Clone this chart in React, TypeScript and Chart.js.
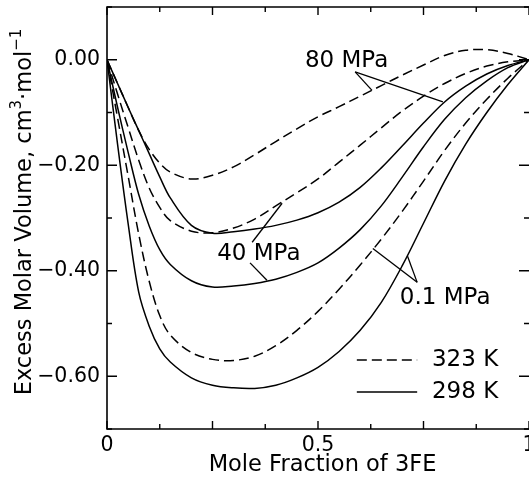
import React, { useEffect, useRef } from 'react';
import { Chart, registerables } from 'chart.js';

Chart.register(...registerables);

const FONT = "'DejaVu Sans', sans-serif";

// x: mole fraction of 3FE (shared grid for all curves)
const MOLE_FRACTION = [0, 0.025, 0.05, 0.075, 0.1, 0.125, 0.15, 0.2, 0.25, 0.3, 0.35, 0.4, 0.45, 0.5, 0.55, 0.6, 0.65, 0.7, 0.75, 0.8, 0.85, 0.9, 0.95, 1];

// Excess molar volume, cm3/mol — 323 K (dashed)
const VE_323K_80MPA = [0, -0.045, -0.09, -0.134, -0.17, -0.196, -0.213, -0.226, -0.219, -0.203, -0.18, -0.155, -0.131, -0.108, -0.089, -0.069, -0.049, -0.029, -0.01, 0.008, 0.018, 0.019, 0.012, 0];
const VE_323K_40MPA = [0, -0.065, -0.128, -0.19, -0.243, -0.28, -0.305, -0.325, -0.328, -0.319, -0.302, -0.277, -0.252, -0.226, -0.194, -0.162, -0.129, -0.097, -0.069, -0.045, -0.026, -0.012, -0.004, 0];
const VE_323K_01MPA = [0, -0.11, -0.22, -0.33, -0.42, -0.485, -0.522, -0.555, -0.568, -0.57, -0.562, -0.542, -0.513, -0.477, -0.435, -0.389, -0.34, -0.287, -0.23, -0.172, -0.12, -0.075, -0.035, 0];

// Excess molar volume, cm3/mol — 298 K (solid)
const VE_298K_80MPA = [0, -0.045, -0.09, -0.134, -0.178, -0.222, -0.262, -0.314, -0.329, -0.326, -0.321, -0.314, -0.304, -0.29, -0.27, -0.242, -0.205, -0.163, -0.12, -0.08, -0.05, -0.027, -0.011, 0];
const VE_298K_40MPA = [0, -0.09, -0.175, -0.255, -0.315, -0.36, -0.388, -0.419, -0.431, -0.429, -0.424, -0.416, -0.403, -0.385, -0.357, -0.322, -0.277, -0.222, -0.165, -0.113, -0.072, -0.04, -0.015, 0];
const VE_298K_01MPA = [0, -0.16, -0.31, -0.44, -0.505, -0.548, -0.573, -0.603, -0.617, -0.622, -0.623, -0.617, -0.603, -0.583, -0.553, -0.513, -0.46, -0.39, -0.31, -0.23, -0.16, -0.1, -0.047, 0];

const TEMPERATURES = ['323 K', '298 K'];
const PRESSURES = ['80 MPa', '40 MPa', '0.1 MPa'];

const X_TITLE = 'Mole Fraction of 3FE';

// annotation placements (data coordinates)
const ANNOTATIONS = [
  { text: PRESSURES[0], at: [0.469, -0.003], from: [0.588, -0.023], to: [[0.628, -0.058], [0.796, -0.08]] },
  { text: PRESSURES[1], at: [0.261, -0.368], from: null, to: [] as number[][] },
  { text: PRESSURES[2], at: [0.694, -0.451], from: [0.735, -0.422], to: [[0.630, -0.358], [0.712, -0.372]] },
];
const LEADERS_40 = [
  [[0.344, -0.346], [0.415, -0.272]],
  [[0.339, -0.385], [0.379, -0.418]],
];
const LEGEND_POS = { x0: 0.592, x1: 0.735, tx: 0.770, y: [-0.569, -0.630] };

const DASH = [10, 5];

const pts = (ys: number[]) => MOLE_FRACTION.map((x, i) => ({ x, y: ys[i] }));

const overlay = {
  id: 'overlay',
  afterDraw(chart: any) {
    const { ctx, chartArea: ca, scales } = chart;
    const xs = scales.x, ys = scales.y;
    const px = (v: number) => xs.getPixelForValue(v);
    const py = (v: number) => ys.getPixelForValue(v);
    ctx.save();
    ctx.strokeStyle = '#000';
    ctx.fillStyle = '#000';
    ctx.lineWidth = 1.6;
    ctx.setLineDash([]);
    // frame (left, top, bottom)
    ctx.beginPath();
    ctx.moveTo(ca.right + 2, ca.top);
    ctx.lineTo(ca.left, ca.top);
    ctx.lineTo(ca.left, ca.bottom);
    ctx.lineTo(ca.right + 2, ca.bottom);
    ctx.stroke();
    // inward ticks
    ctx.lineWidth = 1.4;
    ctx.beginPath();
    xs.ticks.forEach((t: any) => {
      const k = Math.round(t.value * 8);
      const len = k % 2 === 0 ? 8 : 5;
      const x = px(t.value);
      ctx.moveTo(x, ca.bottom); ctx.lineTo(x, ca.bottom - len);
      ctx.moveTo(x, ca.top); ctx.lineTo(x, ca.top + len);
    });
    ys.ticks.forEach((t: any) => {
      const k = Math.round(t.value * 10);
      const len = k % 2 === 0 ? 10 : 5;
      const y = py(t.value);
      ctx.moveTo(ca.left, y); ctx.lineTo(ca.left + len, y);
      ctx.moveTo(ca.right, y); ctx.lineTo(ca.right - len, y);
    });
    ctx.stroke();

    // annotations
    ctx.lineWidth = 1.3;
    ctx.font = `23px ${FONT}`;
    ctx.textAlign = 'left';
    ctx.textBaseline = 'middle';
    ANNOTATIONS.forEach(a => {
      ctx.fillText(a.text, px(a.at[0]), py(a.at[1]));
      if (a.from) {
        a.to.forEach(p => {
          ctx.beginPath();
          ctx.moveTo(px(a.from![0]), py(a.from![1]));
          ctx.lineTo(px(p[0]), py(p[1]));
          ctx.stroke();
        });
      }
    });
    LEADERS_40.forEach(seg => {
      ctx.beginPath();
      ctx.moveTo(px(seg[0][0]), py(seg[0][1]));
      ctx.lineTo(px(seg[1][0]), py(seg[1][1]));
      ctx.stroke();
    });

    // legend
    ctx.lineWidth = 1.5;
    TEMPERATURES.forEach((lab, i) => {
      const y = py(LEGEND_POS.y[i]);
      ctx.setLineDash(i === 0 ? DASH : []);
      ctx.beginPath();
      ctx.moveTo(px(LEGEND_POS.x0), y);
      ctx.lineTo(px(LEGEND_POS.x1), y);
      ctx.stroke();
      ctx.setLineDash([]);
      ctx.fillText(lab, px(LEGEND_POS.tx), y);
    });

    // x title
    ctx.font = `22.5px ${FONT}`;
    ctx.textAlign = 'center';
    ctx.textBaseline = 'middle';
    ctx.fillText(X_TITLE, 322.5, 465);

    // y title with superscripts
    const big = `22.5px ${FONT}`, small = `15px ${FONT}`;
    const parts: [string, string, number][] = [
      ['Excess Molar Volume, cm', big, 0],
      ['3', small, -10],
      ['\u00B7mol', big, 0],
      ['\u22121', small, -10],
    ];
    let total = 0;
    const widths = parts.map(([t, f]) => { ctx.font = f; const w = ctx.measureText(t).width; total += w; return w; });
    ctx.translate(31, 212);
    ctx.rotate(-Math.PI / 2);
    ctx.textAlign = 'left';
    ctx.textBaseline = 'alphabetic';
    let u = -total / 2;
    parts.forEach(([t, f, dv], i) => {
      ctx.font = f;
      ctx.fillText(t, u, dv);
      u += widths[i];
    });
    ctx.restore();
  },
};

export default function App() {
  const ref = useRef<HTMLCanvasElement>(null);
  useEffect(() => {
    Chart.defaults.font.family = FONT;
    Chart.defaults.color = '#000';
    const line = (label: string, ys: number[], dashed: boolean) => ({
      label,
      data: pts(ys),
      borderColor: '#000',
      borderWidth: 1.5,
      borderDash: dashed ? DASH : [],
      pointRadius: 0,
      fill: false,
      tension: 0.35,
    });
    const chart = new Chart(ref.current!, {
      type: 'line',
      data: {
        datasets: [
          line(`${TEMPERATURES[0]} ${PRESSURES[0]}`, VE_323K_80MPA, true),
          line(`${TEMPERATURES[0]} ${PRESSURES[1]}`, VE_323K_40MPA, true),
          line(`${TEMPERATURES[0]} ${PRESSURES[2]}`, VE_323K_01MPA, true),
          line(`${TEMPERATURES[1]} ${PRESSURES[0]}`, VE_298K_80MPA, false),
          line(`${TEMPERATURES[1]} ${PRESSURES[1]}`, VE_298K_40MPA, false),
          line(`${TEMPERATURES[1]} ${PRESSURES[2]}`, VE_298K_01MPA, false),
        ],
      },
      options: {
        responsive: false,
        animation: false,
        devicePixelRatio: 1,
        events: [],
        layout: { padding: { top: 7, right: 0, left: 0, bottom: 0 } },
        plugins: { legend: { display: false }, tooltip: { enabled: false } },
        scales: {
          x: {
            type: 'linear',
            min: 0,
            max: 1,
            grid: { display: false, drawTicks: false },
            border: { display: false },
            ticks: {
              stepSize: 0.125,
              autoSkip: false,
              maxRotation: 0,
              padding: 4,
              font: { size: 20.5, family: FONT },
              color: '#000',
              callback: (v: any) => {
                const k = Math.round(Number(v) * 8);
                return k === 0 ? '0' : k === 4 ? '0.5' : k === 8 ? '1' : '';
              },
            },
            afterFit: (s: any) => { s.height = 57; s.paddingLeft = 0; s.paddingRight = 0; },
          },
          y: {
            type: 'linear',
            min: -0.7,
            max: 0.1,
            grid: { display: false, drawTicks: false },
            border: { display: false },
            ticks: {
              stepSize: 0.1,
              autoSkip: false,
              padding: 7,
              font: { size: 20.5, family: FONT },
              color: '#000',
              callback: (v: any) => {
                const k = Math.round(Number(v) * 10);
                if (k % 2 !== 0 || k > 0) return '';
                return (k < 0 ? '\u2212' : '') + (Math.abs(k) / 10).toFixed(2);
              },
            },
            afterFit: (s: any) => { s.width = 107; s.paddingTop = 0; s.paddingBottom = 0; },
          },
        },
      },
      plugins: [overlay],
    });
    return () => chart.destroy();
  }, []);
  return (
    <div style={{ position: 'fixed', left: 0, top: 0, width: 529, height: 486, background: '#fff' }}>
      <canvas ref={ref} width={529} height={486} style={{ display: 'block', width: 529, height: 486 }} />
    </div>
  );
}
